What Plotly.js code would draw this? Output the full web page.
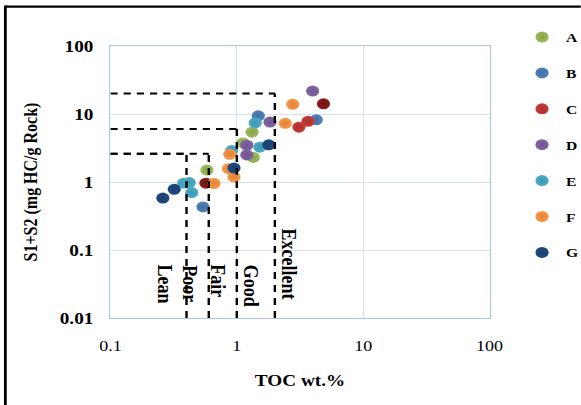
<!DOCTYPE html>
<html><head><meta charset="utf-8">
<script src="https://cdn.plot.ly/plotly-3.0.1.min.js"></script>
<style>
html,body{margin:0;padding:0;background:#fff;overflow:hidden;}
#chart{width:484px;height:405px;transform:scaleX(1.2);transform-origin:0 0;}
</style></head><body><div id="chart"></div>
<script>
// ---- data ----
const seriesNames = ['A','B','C','D','E','F','G'];
const tocA = [0.58, 1.12, 1.32, 1.35];
const s12A = [1.5, 3.75, 5.4, 2.3];
const tocB = [0.54, 1.48, 4.25];
const s12B = [0.43, 9.4, 8.2];
const tocC = [3.1, 3.66, 0.57, 4.85];
const s12C = [6.4, 7.8, 0.96, 14.1];
const tocD = [1.2, 1.2, 1.83, 3.98];
const s12D = [3.47, 2.5, 7.6, 21.7];
const tocE = [0.38, 0.42, 0.44, 0.91, 1.4, 1.52];
const s12E = [0.96, 0.98, 0.70, 2.9, 7.4, 3.25];
const tocF = [0.66, 0.88, 0.86, 0.95, 2.42, 2.77];
const s12F = [0.95, 2.55, 1.57, 1.19, 7.3, 13.9];
const tocG = [0.26, 0.32, 0.95, 1.79];
const s12G = [0.58, 0.78, 1.6, 3.52];

const xTickVals = [0.1, 1, 10, 100];
const xTickText = ['0.1', '1', '10', '100'];
const yTickVals = [0.01, 0.1, 1, 10, 100];
const yTickText = ['0.01', '0.1', '1', '10', '100'];

// classification limits
const tocLimits = [0.4, 0.6, 1, 2];
const s12Limits = [2.6, 2.6, 6, 20];
const zoneLabels = ['Lean', 'Poor', 'Fair', 'Good', 'Excellent'];
const zoneLabelToc = [0.27, 0.43, 0.72, 1.31, 2.58];
const zoneLabelS12 = [0.0316, 0.0316, 0.0355, 0.030, 0.0617];

// ---- styles ----
const colors = {
  A: '#9BBB59', B: '#4F81BD', C: '#C83A38', D: '#8064A2',
  E: '#4BACC6', F: '#F79646', G: '#1F497D'
};
const edge = {
  A: '#86A34B', B: '#44709F', C: '#A83030', D: '#6E5690',
  E: '#3F97AE', F: '#E0843A', G: '#1A3F6C'
};
const cPointColors = [colors.C, colors.C, '#8B1C1C', '#8B1C1C'];
const cEdgeColors = ['#A83030', '#A83030', '#6E1414', '#6E1414'];
const serif = '"Liberation Serif", "Times New Roman", serif';

const xs = {A: tocA, B: tocB, C: tocC, D: tocD, E: tocE, F: tocF, G: tocG};
const ys = {A: s12A, B: s12B, C: s12C, D: s12D, E: s12E, F: s12F, G: s12G};

const traces = seriesNames.map(n => ({
  type: 'scatter', mode: 'markers', name: n, legendgroup: n,
  x: xs[n], y: ys[n],
  marker: {
    size: 11,
    color: n === 'C' ? cPointColors : colors[n],
    line: {width: 0},
    gradient: {type: 'radial', color: n === 'C' ? cEdgeColors : edge[n]}
  },
  hoverinfo: 'skip'
}));

const shapes = [];
tocLimits.forEach((t, i) => {
  shapes.push({type: 'line', xref: 'x', yref: 'y', x0: 0.1, x1: t, y0: s12Limits[i], y1: s12Limits[i],
    line: {color: '#000', width: 2, dash: '6px,5px'}});
  shapes.push({type: 'line', xref: 'x', yref: 'y', x0: t, x1: t, y0: 0.01, y1: s12Limits[i],
    line: {color: '#000', width: 2, dash: '7px,6px'}});
});
// outer frame (top and left edges visible in the reference)
shapes.push({type: 'line', xref: 'paper', yref: 'paper', x0: -0.277, x1: 1.35, y0: 1.145, y1: 1.145,
  line: {color: '#000', width: 2.3}});
shapes.push({type: 'line', xref: 'paper', yref: 'paper', x0: -0.277, x1: -0.277, y0: 1.149, y1: -0.4,
  line: {color: '#000', width: 2.3}});

const annotations = zoneLabels.map((t, i) => ({
  text: t, xref: 'x', yref: 'y',
  x: Math.log10(zoneLabelToc[i]), y: Math.log10(zoneLabelS12[i]),
  textangle: 90, showarrow: false,
  font: {family: serif, size: 18, color: '#000', weight: 'bold'}
}));

const gridC = '#D5E0F1', lineC = '#A9C5EA';
const layout = {
  width: 484, height: 405,
  margin: {l: 92, r: 76, t: 46, b: 87, autoexpand: false},
  paper_bgcolor: '#fff', plot_bgcolor: '#fff',
  font: {family: serif, color: '#000'},
  showlegend: true,
  xaxis: {
    type: 'log', range: [-1, 2], tickmode: 'array', tickvals: xTickVals, ticktext: xTickText,
    showgrid: true, gridcolor: gridC, gridwidth: 1, zeroline: false,
    showline: true, linecolor: lineC, linewidth: 1, mirror: true,
    ticks: 'outside', ticklen: 14, tickcolor: 'rgba(0,0,0,0)',
    tickfont: {family: serif, size: 15, color: '#000'},
    title: {text: 'TOC wt.%', font: {family: serif, size: 16, weight: 'bold', color: '#000'}, standoff: 21},
    fixedrange: true
  },
  yaxis: {
    type: 'log', range: [-2, 2], tickmode: 'array', tickvals: yTickVals, ticktext: yTickText,
    showgrid: true, gridcolor: gridC, gridwidth: 1, zeroline: false,
    showline: true, linecolor: lineC, linewidth: 1, mirror: true,
    ticks: 'outside', ticklen: 10, tickcolor: 'rgba(0,0,0,0)',
    tickfont: {family: serif, size: 16, weight: 'bold', color: '#000'},
    title: {text: 'S1+S2 (mg HC/g Rock)', font: {family: serif, size: 16, weight: 'bold', color: '#000'}, standoff: 14},
    fixedrange: true
  },
  legend: {
    x: 1.075, xanchor: 'left', y: 1.088, yanchor: 'top',
    font: {family: serif, size: 13, weight: 'bold', color: '#000'},
    tracegroupgap: 16, bgcolor: 'rgba(0,0,0,0)', borderwidth: 0,
    maxheight: 395
  },
  shapes: shapes,
  annotations: annotations
};

Plotly.newPlot('chart', traces, layout, {displayModeBar: false, staticPlot: true});
</script></body></html>
